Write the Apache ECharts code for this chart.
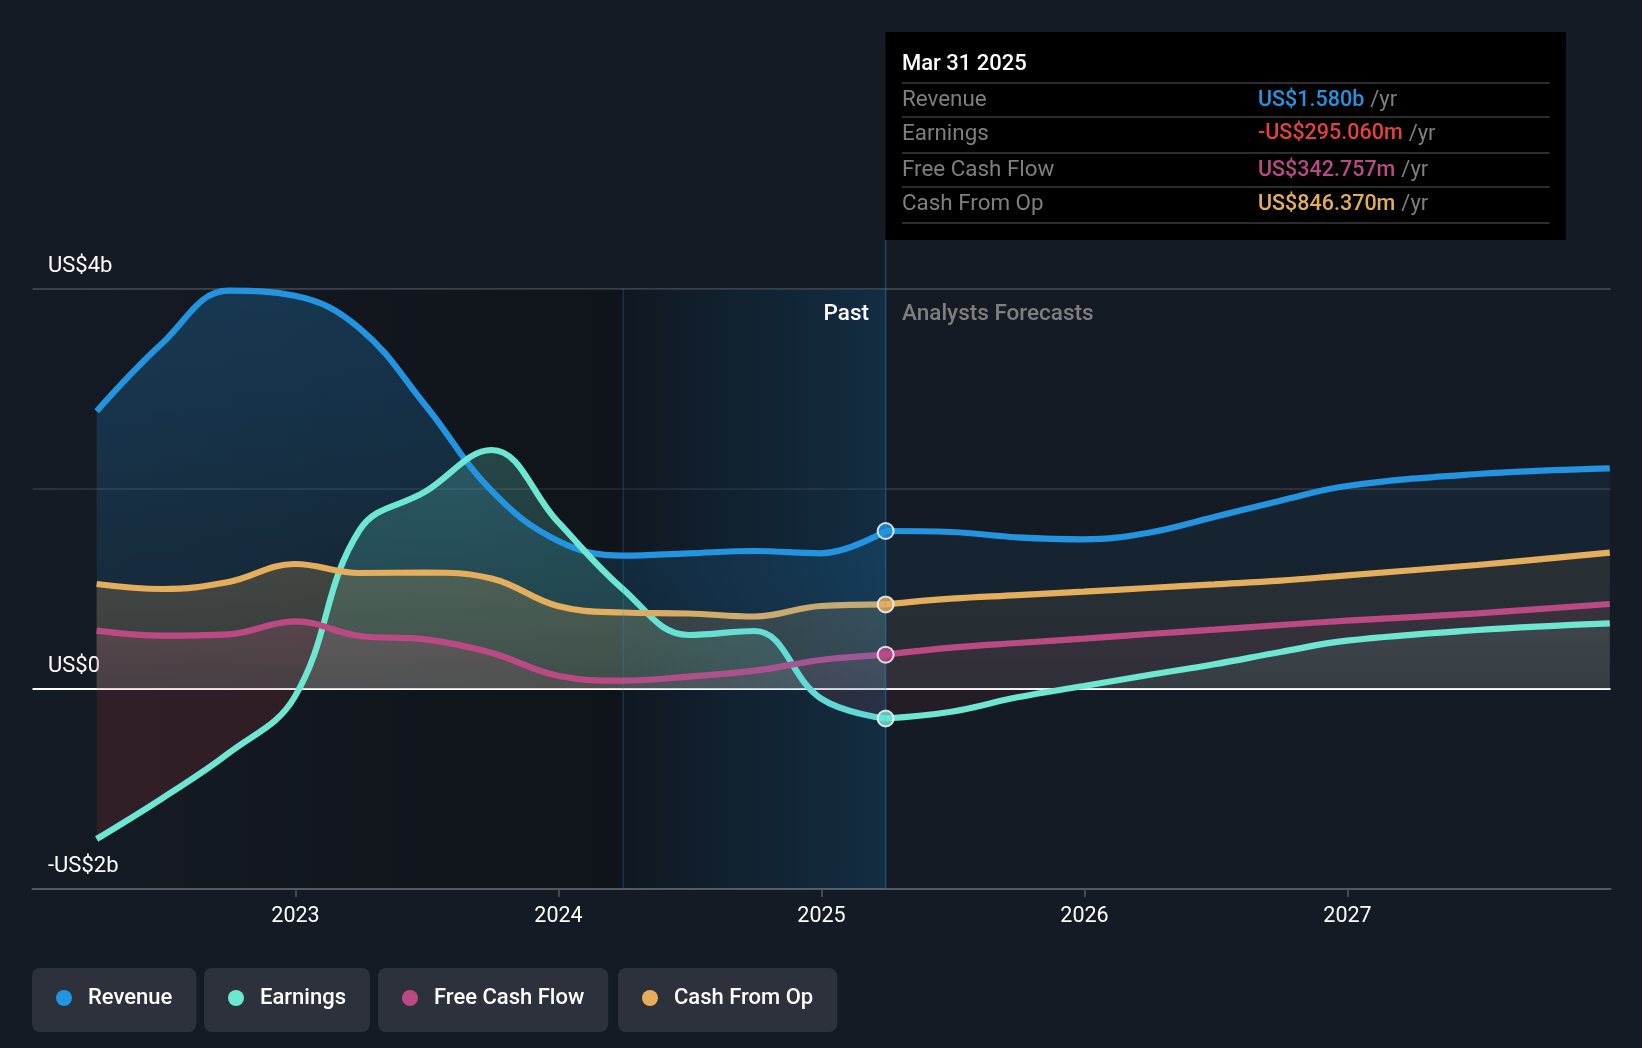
<!DOCTYPE html>
<html>
<head>
<meta charset="utf-8">
<title>Revenue, earnings and cash flow</title>
<script src="https://cdn.jsdelivr.net/npm/echarts@6/dist/echarts.min.js"></script>
<style>
    html, body { margin: 0; padding: 0; background: #151b24; }
    #chart { width: 1642px; height: 1048px; }
</style>
</head>
<body>
<div id="chart"></div>
<script>
// all values in US$ billions
var pastDates = ['2022-03-31', '2022-06-30', '2022-09-30', '2022-12-31', '2023-03-31', '2023-06-30', '2023-09-30',
    '2023-12-31', '2024-03-31', '2024-06-30', '2024-09-30', '2024-12-31', '2025-03-31'];
var forecastDates = ['2025-03-31', '2025-06-30', '2025-09-30', '2025-12-31', '2026-03-31', '2026-06-30', '2026-09-30',
    '2026-12-31', '2027-06-30', '2027-12-31'];

var revenuePast = [2.777, 3.457, 3.983, 3.933, 3.607, 2.84, 1.983, 1.483, 1.333, 1.357, 1.38, 1.357, 1.58];
var earningsPast = [-1.5, -1.093, -0.643, -0.077, 1.59, 1.973, 2.39, 1.673, 0.997, 0.54, 0.58, -0.093, -0.295];
var fcfPast = [0.583, 0.533, 0.547, 0.677, 0.53, 0.497, 0.363, 0.133, 0.083, 0.123, 0.183, 0.29, 0.343];
var cfoPast = [1.05, 1.0, 1.07, 1.25, 1.16, 1.165, 1.105, 0.83, 0.765, 0.755, 0.725, 0.83, 0.846];

var revenueForecast = [1.58, 1.57, 1.517, 1.497, 1.563, 1.72, 1.883, 2.03, 2.15, 2.207];
var earningsForecast = [-0.295, -0.227, -0.083, 0.03, 0.14, 0.247, 0.37, 0.483, 0.59, 0.657];
var fcfForecast = [0.343, 0.413, 0.46, 0.503, 0.55, 0.593, 0.64, 0.683, 0.757, 0.85];
var cfoForecast = [0.846, 0.903, 0.938, 0.974, 1.01, 1.046, 1.083, 1.137, 1.24, 1.363];

var yearTicks = [2023, 2024, 2025, 2026, 2027];
var yLabels = { '4': 'US$4b', '0': 'US$0', '-2': '-US$2b' };

var tipDate = 'Mar 31 2025';
var tipNames = ['Revenue', 'Earnings', 'Free Cash Flow', 'Cash From Op'];
var tipValues = ['US$1.580b', '-US$295.060m', 'US$342.757m', 'US$846.370m'];

var colors = ['#2394df', '#6ee7d2', '#bb4a84', '#e5ae5c'];
var tipColors = ['#2394df', '#e64141', '#bb4a84', '#e5ae5c'];
var FONT = 'Roboto';

function rgba(hex, a) {
    var n = parseInt(hex.slice(1), 16);
    return 'rgba(' + (n >> 16) + ',' + ((n >> 8) & 255) + ',' + (n & 255) + ',' + a + ')';
}

// x axis runs in fractional years so the year ticks can be set directly
function toYear(d) {
    var t = new Date(d + 'T00:00:00Z');
    var y = t.getUTCFullYear();
    return y + (t - Date.UTC(y, 0, 1)) / (Date.UTC(y + 1, 0, 1) - Date.UTC(y, 0, 1));
}

function pairs(dates, values) {
    return dates.map(function (d, i) { return [toYear(d), values[i]]; });
}

// vertical fill in pixel coords: plot runs 289..889, zero sits at 2/3
function fill(color, topAlpha, zeroAlpha, negAlpha) {
    return {
        type: 'linear', global: true, x: 0, y: 289, x2: 0, y2: 889,
        colorStops: [
            { offset: 0, color: rgba(color, topAlpha) },
            { offset: 0.6665, color: rgba(color, zeroAlpha) },
            { offset: 0.6667, color: rgba('#e64141', negAlpha) },
            { offset: 1, color: rgba('#e64141', negAlpha) }
        ]
    };
}

function lineSeries(name, color, dates, values, area) {
    return {
        name: name,
        type: 'line',
        z: 2,
        data: pairs(dates, values),
        smooth: 0.4,
        symbol: 'none',
        silent: true,
        itemStyle: { color: color },
        lineStyle: { color: color, width: 6.2, cap: 'butt' },
        areaStyle: { origin: 0, color: area }
    };
}

var series = [];

// zero line and the dark part of the past, below everything
series.push({
    type: 'line',
    z: 1,
    silent: true,
    symbol: 'none',
    data: [[2022, 0], [2028, 0]],
    lineStyle: { color: '#ffffff', width: 2 },
    markArea: {
        silent: true,
        z: 0,
        data: [
            [{
                xAxis: 2022,
                itemStyle: {
                    color: {
                        type: 'linear', x: 0, y: 0, x2: 1, y2: 0,
                        colorStops: [{ offset: 0, color: 'rgba(0,0,0,0)' }, { offset: 1, color: 'rgba(0,0,0,0.28)' }]
                    }
                }
            }, { xAxis: toYear('2024-03-31') }],
            [{ xAxis: toYear('2024-03-31'), itemStyle: { color: 'rgba(0,0,0,0.28)' } }, { xAxis: toYear('2025-03-31') }]
        ]
    }
});

series.push(lineSeries('Revenue', colors[0], pastDates, revenuePast, fill(colors[0], 0.36, 0.14, 0)));
series.push(lineSeries('Revenue', colors[0], forecastDates, revenueForecast, fill(colors[0], 0.14, 0.08, 0)));
series.push(lineSeries('Earnings', colors[1], pastDates, earningsPast, fill(colors[1], 0.42, 0.2, 0.19)));
series.push(lineSeries('Earnings', colors[1], forecastDates, earningsForecast, fill(colors[1], 0.4, 0.12, 0.09)));
series.push(lineSeries('Free Cash Flow', colors[2], pastDates, fcfPast, fill(colors[2], 0.8, 0.18, 0)));
series.push(lineSeries('Free Cash Flow', colors[2], forecastDates, fcfForecast, fill(colors[2], 0.35, 0.1, 0)));
series.push(lineSeries('Cash From Op', colors[3], pastDates, cfoPast, fill(colors[3], 0.5, 0.22, 0)));
series.push(lineSeries('Cash From Op', colors[3], forecastDates, cfoForecast, fill(colors[3], 0.2, 0.1, 0)));

// blue band over the last year of the past, on top of the lines
series.push({
    type: 'line',
    z: 10,
    silent: true,
    data: [],
    markArea: {
        silent: true,
        z: 10,
        itemStyle: {
            color: {
                type: 'linear', x: 0, y: 0, x2: 1, y2: 0,
                colorStops: [{ offset: 0, color: rgba(colors[0], 0.04) }, { offset: 1, color: rgba(colors[0], 0.2) }]
            }
        },
        data: [[{ xAxis: toYear('2024-03-31') }, { xAxis: toYear('2025-03-31') }]]
    }
});

// dots on the last actual values
series.push({
    type: 'scatter',
    z: 20,
    silent: true,
    symbolSize: 16,
    data: [revenuePast, earningsPast, fcfPast, cfoPast].map(function (s, i) {
        return {
            value: [toYear('2025-03-31'), s[s.length - 1]],
            itemStyle: { color: colors[i], borderColor: '#ffffff', borderWidth: 2 }
        };
    })
});

function legendFor(name, left) {
    return {
        data: [name],
        left: left,
        top: 968,
        icon: 'circle',
        selectedMode: false,
        itemWidth: 16,
        itemHeight: 16,
        backgroundColor: '#2d313b',
        borderRadius: 8,
        padding: [18, 24, 22, 24],
        textStyle: {
            color: '#ffffff', fontFamily: FONT, fontSize: 22, fontWeight: 500, lineHeight: 24, padding: [0, 0, 0, 11]
        }
    };
}

function tipGraphics() {
    var els = [{
        type: 'rect', z: 100, silent: true,
        shape: { x: 885.5, y: 32, width: 680.5, height: 208 },
        style: { fill: '#000000' }
    }, {
        type: 'text', z: 101, silent: true, x: 902, y: 64,
        style: { text: tipDate, fill: '#ffffff', font: '500 22px ' + FONT, textVerticalAlign: 'middle' }
    }];
    var ruleY = [83, 117, 153, 187, 223];
    var textY = [100.5, 134, 170.5, 204.5];
    ruleY.forEach(function (y) {
        els.push({
            type: 'line', z: 101, silent: true,
            shape: { x1: 902, y1: y, x2: 1549.5, y2: y },
            style: { stroke: '#3c3c3c', lineWidth: 1.5 }
        });
    });
    tipNames.forEach(function (name, i) {
        els.push({
            type: 'text', z: 101, silent: true, x: 902, y: textY[i],
            style: { text: name, fill: '#7f7f7f', font: '22.4px ' + FONT, textVerticalAlign: 'middle' }
        });
        els.push({
            type: 'text', z: 101, silent: true, x: 1258, y: textY[i],
            style: {
                text: '{v|' + tipValues[i] + '}{u|/yr}',
                textVerticalAlign: 'middle',
                rich: {
                    v: { fill: tipColors[i], font: '500 21.5px ' + FONT },
                    u: { fill: '#7f7f7f', font: '22px ' + FONT, padding: [0, 0, 0, 6] }
                }
            }
        });
    });
    return els;
}

var myChart = echarts.init(document.getElementById('chart'));

myChart.setOption({
    animation: false,
    backgroundColor: '#151b24',
    textStyle: { fontFamily: FONT },
    grid: { left: 32.5, right: 31.5, top: 289, bottom: 159 },
    legend: [legendFor('Revenue', 32), legendFor('Earnings', 204), legendFor('Free Cash Flow', 378), legendFor('Cash From Op', 618)],
    xAxis: {
        type: 'value',
        min: 2022,
        max: 2028,
        interval: 1,
        splitLine: { show: false },
        axisLine: { onZero: false, lineStyle: { color: '#55595f', width: 2 } },
        axisTick: {
            length: 8,
            lineStyle: { color: '#55595f', width: 1.5 },
            customValues: yearTicks
        },
        axisLabel: {
            color: '#ffffff',
            fontFamily: FONT,
            fontSize: 21.5,
            margin: 17,
            customValues: yearTicks,
            formatter: function (v) { return String(v); }
        }
    },
    yAxis: {
        type: 'value',
        min: -2,
        max: 4,
        interval: 2,
        axisLine: { show: false },
        axisTick: { show: false },
        splitLine: { lineStyle: { color: ['transparent', 'transparent', '#363a42', '#4a4e56'], width: 1.5 } },
        axisLabel: {
            inside: true,
            margin: 15.5,
            color: '#ffffff',
            fontFamily: FONT,
            fontSize: 22,
            verticalAlign: 'bottom',
            lineHeight: 46,
            formatter: function (v) { return yLabels[v] || ''; }
        }
    },
    series: series
});

var bandLeft = myChart.convertToPixel({ xAxisIndex: 0 }, toYear('2024-03-31'));
var bandRight = myChart.convertToPixel({ xAxisIndex: 0 }, toYear('2025-03-31'));

myChart.setOption({
    graphic: tipGraphics().concat([{
        type: 'line', z: 15, silent: true,
        shape: { x1: bandLeft, y1: 289, x2: bandLeft, y2: 888 },
        style: { stroke: 'rgba(35,148,223,0.22)', lineWidth: 1.5 }
    }, {
        type: 'line', z: 15, silent: true,
        shape: { x1: bandRight, y1: 240, x2: bandRight, y2: 888 },
        style: { stroke: 'rgba(35,148,223,0.38)', lineWidth: 1.5 }
    }, {
        type: 'text', z: 16, silent: true, x: 869, y: 314,
        style: { text: 'Past', fill: '#ffffff', font: '500 22.5px ' + FONT, textAlign: 'right', textVerticalAlign: 'middle' }
    }, {
        type: 'text', z: 16, silent: true, x: 902, y: 314,
        style: { text: 'Analysts Forecasts', fill: '#7f7f7f', font: '500 22.5px ' + FONT, textVerticalAlign: 'middle' }
    }])
});
</script>
</body>
</html>
